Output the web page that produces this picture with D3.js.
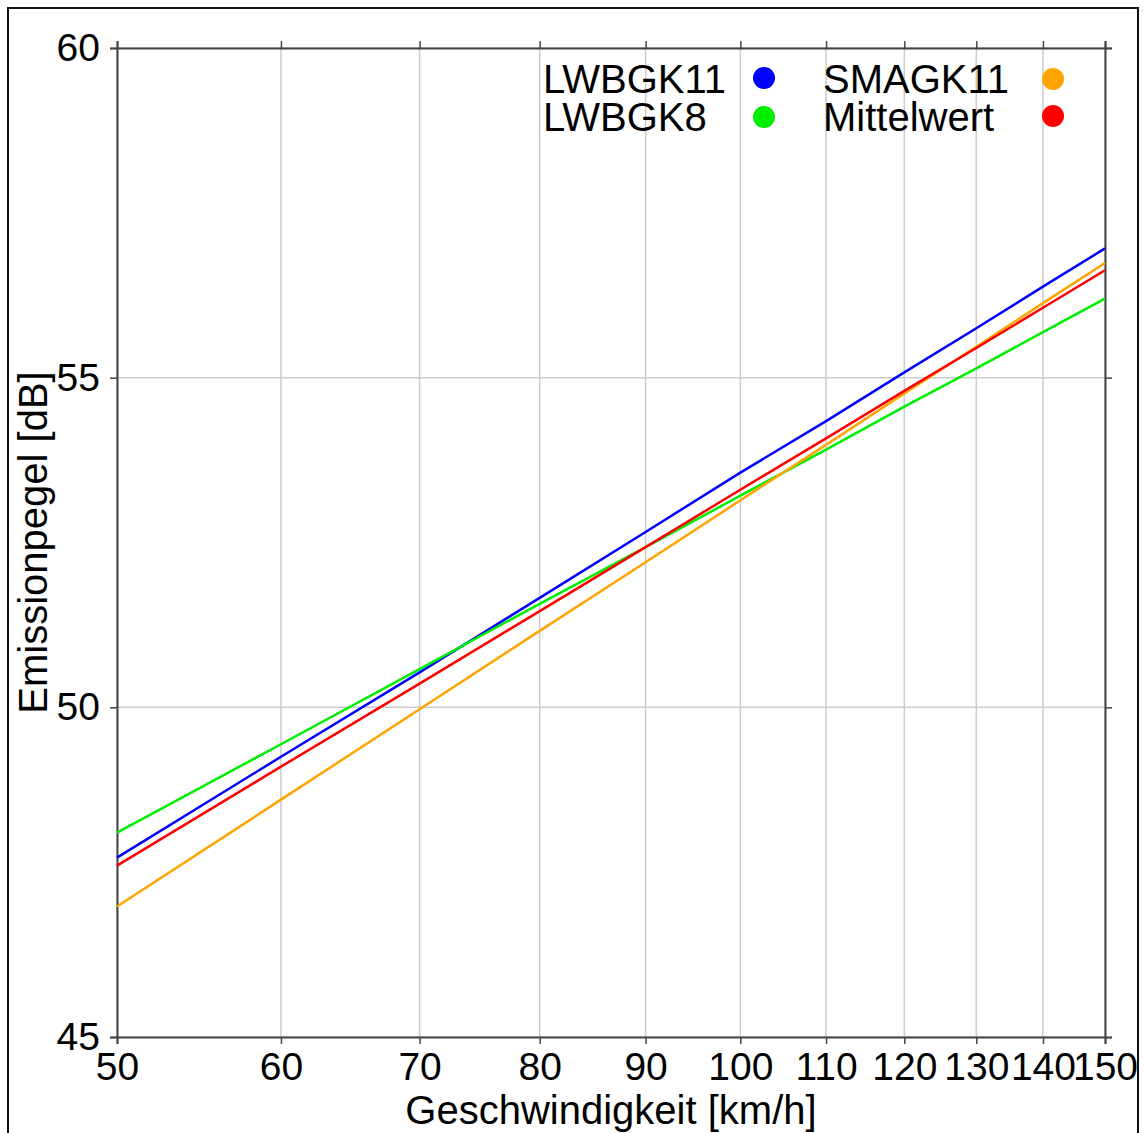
<!DOCTYPE html>
<html>
<head>
<meta charset="utf-8">
<script src="https://cdn.jsdelivr.net/npm/d3@7"></script>
<style>
  body { margin: 0; background: #fff; }
  svg { display: block; font-family: "Liberation Sans", Arial, sans-serif; }
</style>
</head>
<body>
<div id="chart"></div>
<script>
// speeds in km/h
const speeds = [50, 60, 70, 80, 90, 100, 110, 120, 130, 140, 150]
const lwbgk11 = [47.72, 49.25, 50.53, 51.66, 52.66, 53.56, 54.34, 55.08, 55.75, 56.38, 56.96]
const lwbgk8 = [48.10, 49.44, 50.58, 51.57, 52.43, 53.21, 53.91, 54.56, 55.14, 55.69, 56.20]
const smagk11 = [46.98, 48.60, 49.97, 51.16, 52.20, 53.14, 53.98, 54.76, 55.47, 56.13, 56.74]
const mittelwert = [47.60, 49.10, 50.36, 51.46, 52.43, 53.30, 54.08, 54.80, 55.45, 56.06, 56.63]

const xTicks = [50, 60, 70, 80, 90, 100, 110, 120, 130, 140, 150]
const yTicks = [45, 50, 55, 60]

const seriesNames = ['LWBGK11', 'LWBGK8', 'SMAGK11', 'Mittelwert']
const seriesColors = ['#0000ff', '#00ee00', '#ffa500', '#ff0000']
const seriesValues = [lwbgk11, lwbgk8, smagk11, mittelwert]

var width = 1144, height = 1133
var margin = {left: 117, top: 48, right: 1105, bottom: 1037}

var svg = d3.select('#chart').append('svg')
    .attr('width', width)
    .attr('height', height)

// outer frame
svg.append('rect')
    .attr('x', 8).attr('y', 8)
    .attr('width', 1130).attr('height', 1150)
    .style('fill', 'none')
    .style('stroke', '#111')
    .style('stroke-width', 2)

var x = d3.scaleLog().domain([50, 150]).range([margin.left, margin.right])
var y = d3.scaleLinear().domain([45, 60]).range([margin.bottom, margin.top])

// grid
var grid = svg.append('g').attr('class', 'grid')
grid.selectAll('.gx').data(xTicks).enter().append('line')
    .attr('x1', d => x(d)).attr('x2', d => x(d))
    .attr('y1', margin.top).attr('y2', margin.bottom)
    .style('stroke', '#cccccc').style('stroke-width', 1.5)
grid.selectAll('.gy').data(yTicks).enter().append('line')
    .attr('x1', margin.left).attr('x2', margin.right)
    .attr('y1', d => y(d)).attr('y2', d => y(d))
    .style('stroke', '#cccccc').style('stroke-width', 1.5)

// axes on all four sides
var axisStyle = function(g) {
    g.select('.domain').style('stroke', '#444').style('stroke-width', 2)
    g.selectAll('.tick line').style('stroke', '#444').style('stroke-width', 1.5)
    g.selectAll('text').style('font-size', '39px').style('fill', '#000')
        .style('font-family', '"Liberation Sans", Arial, sans-serif')
}

svg.append('g')
    .attr('transform', `translate(0,${margin.bottom})`)
    .call(d3.axisBottom(x).tickValues(xTicks).tickFormat(d3.format('d')).tickSizeOuter(0).tickSize(7).tickPadding(8))
    .call(axisStyle)

svg.append('g')
    .attr('transform', `translate(0,${margin.top})`)
    .call(d3.axisTop(x).tickValues(xTicks).tickFormat('').tickSizeOuter(0).tickSize(7))
    .call(axisStyle)

svg.append('g')
    .attr('transform', `translate(${margin.left},0)`)
    .call(d3.axisLeft(y).tickValues(yTicks).tickFormat(d3.format('d')).tickSizeOuter(0).tickSize(7).tickPadding(10))
    .call(axisStyle)

svg.append('g')
    .attr('transform', `translate(${margin.right},0)`)
    .call(d3.axisRight(y).tickValues(yTicks).tickFormat('').tickSizeOuter(0).tickSize(7))
    .call(axisStyle)

// lines
var line = d3.line()
    .x((d, i) => x(speeds[i]))
    .y(d => y(d))

seriesValues.forEach(function(vals, i) {
    svg.append('path')
        .datum(vals)
        .attr('d', line)
        .style('fill', 'none')
        .style('stroke', seriesColors[i])
        .style('stroke-width', 2.5)
})

// legend
var legendPos = [
    {tx: 543, cx: 764, ty: 93, cy: 78},
    {tx: 543, cx: 764, ty: 131, cy: 117},
    {tx: 823, cx: 1053, ty: 93, cy: 79},
    {tx: 823, cx: 1053, ty: 131, cy: 116}
]
seriesNames.forEach(function(name, i) {
    var p = legendPos[i]
    svg.append('text')
        .attr('x', p.tx).attr('y', p.ty)
        .style('font-size', '40px')
        .text(name)
    svg.append('circle')
        .attr('cx', p.cx).attr('cy', p.cy).attr('r', 11)
        .style('fill', seriesColors[i])
})

// axis titles
svg.append('text')
    .attr('x', (margin.left + margin.right) / 2)
    .attr('y', 1124)
    .attr('text-anchor', 'middle')
    .style('font-size', '40px')
    .text('Geschwindigkeit [km/h]')

svg.append('text')
    .attr('transform', `translate(47,${(margin.top + margin.bottom) / 2}) rotate(-90)`)
    .attr('text-anchor', 'middle')
    .style('font-size', '40px')
    .text('Emissionpegel [dB]')
</script>
</body>
</html>
